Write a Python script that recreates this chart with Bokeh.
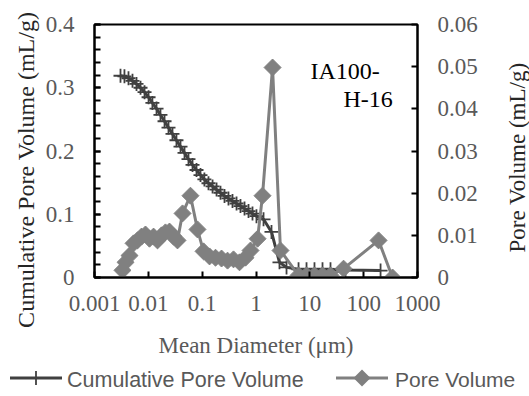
import math
from bokeh.plotting import figure
from bokeh.layouts import column, row
from bokeh.core.properties import value
from bokeh.models import (Range1d, LinearAxis, FixedTicker, CustomJSTickFormatter,
                          Label, Div)
from bokeh.embed import file_html
from bokeh.resources import INLINE

# ---- data ----
cum_x = [0.00304, 0.00360, 0.00428, 0.00508, 0.00603, 0.00716, 0.00850, 0.0101,
         0.0119, 0.0142, 0.0168, 0.0200, 0.0237, 0.0281, 0.0333, 0.0396, 0.0470,
         0.0557, 0.0662, 0.0785, 0.0931, 0.110, 0.131, 0.156, 0.185, 0.219, 0.260,
         0.308, 0.366, 0.435, 0.515, 0.612, 0.726, 0.861, 1.02, 1.38, 1.94, 2.73,
         3.69, 6.17, 8.68, 12.2, 17.2, 24.2, 46.0, 206.0]
cum_y = [0.319, 0.318, 0.315, 0.311, 0.306, 0.300, 0.293, 0.285, 0.276, 0.267,
         0.257, 0.247, 0.237, 0.227, 0.217, 0.207, 0.197, 0.187, 0.178, 0.170,
         0.162, 0.155, 0.149, 0.144, 0.139, 0.134, 0.129, 0.125, 0.121, 0.117,
         0.113, 0.109, 0.105, 0.101, 0.097, 0.092, 0.072, 0.024, 0.016, 0.013,
         0.013, 0.013, 0.013, 0.013, 0.012, 0.011]

pv_x = [0.00331, 0.00377, 0.00447, 0.00531, 0.00630, 0.00747, 0.00885, 0.0105,
        0.0125, 0.0148, 0.0176, 0.0208, 0.0247, 0.0294, 0.0348, 0.0432, 0.0606,
        0.0818, 0.106, 0.137, 0.177, 0.229, 0.296, 0.382, 0.494, 0.638, 0.791,
        1.07, 1.32, 2.03, 2.85, 6.17, 8.68, 12.2, 17.2, 24.2, 42.3, 189.0, 344.0]
pv_y = [0.0017, 0.0036, 0.0052, 0.0081, 0.0088, 0.0097, 0.0102, 0.0092, 0.0097,
        0.0088, 0.0100, 0.0107, 0.0109, 0.0097, 0.0088, 0.0152, 0.0194, 0.0114,
        0.0062, 0.0050, 0.0047, 0.0045, 0.0040, 0.0043, 0.0036, 0.0047, 0.0064,
        0.0092, 0.0194, 0.0498, 0.0064, 0.0005, 0.0005, 0.0005, 0.0005, 0.0005,
        0.0021, 0.0088, 0.0000]

x_ticks = [0.001, 0.01, 0.1, 1, 10, 100, 1000]
left_ticks = [0.0, 0.1, 0.2, 0.3, 0.4]
left_minor = [0.02 * i for i in range(21)]
right_ticks = [0.0, 0.01, 0.02, 0.03, 0.04, 0.05, 0.06]
series_names = ["Cumulative Pore Volume", "Pore Volume"]
left_title = "Cumulative Pore Volume (mL/g)"
right_title = "Pore Volume (mL/g)"

SERIF = "Liberation Serif"
GRAY = "#595959"
CUM_COLOR = "#404040"
PV_COLOR = "#808080"


def make_label(**kw):
    font = kw.pop("font")
    lab = Label(**kw)
    try:
        lab.text_font = value(font)
    except Exception:
        lab.text_font = font
    return lab


p = figure(width=465, height=368, x_axis_type="log", output_backend="svg",
           toolbar_location=None, x_range=Range1d(0.001, 1000),
           y_range=Range1d(0, 0.4),
           min_border_left=54, min_border_right=88, min_border_top=24,
           min_border_bottom=91)
p.extra_y_ranges = {"pv": Range1d(0, 0.06)}
p.grid.visible = False
p.outline_line_color = "black"
p.outline_line_width = 2
p.background_fill_color = "white"
p.border_fill_color = "white"

fmt = CustomJSTickFormatter(code="return String(Math.round(tick*1000000)/1000000)")

xa = p.xaxis[0]
xa.ticker = FixedTicker(ticks=x_ticks)
xa.formatter = fmt
xa.axis_label = "Mean Diameter (\u03bcm)"

ya = p.yaxis[0]
ya.ticker = FixedTicker(ticks=left_ticks, minor_ticks=left_minor)
ya.formatter = fmt

ra = LinearAxis(y_range_name="pv", ticker=FixedTicker(ticks=right_ticks), formatter=fmt)
p.add_layout(ra, "right")

for ax in (xa, ya, ra):
    ax.axis_line_color = "black"
    ax.axis_line_width = 2
    ax.major_tick_line_color = "black"
    ax.major_tick_line_width = 2
    ax.minor_tick_line_color = "black"
    ax.minor_tick_line_width = 2
    ax.major_tick_in = 6
    ax.major_tick_out = 0
    ax.minor_tick_in = 0
    ax.minor_tick_out = 0
    ax.major_label_text_font = SERIF
    ax.major_label_text_font_size = "23px"
    ax.major_label_text_color = GRAY
    ax.axis_label_text_font = SERIF
    ax.axis_label_text_font_size = "23px"
    ax.axis_label_text_color = GRAY
    ax.axis_label_text_font_style = "normal"
ya.minor_tick_in = 6
xa.major_label_standoff = 18
xa.axis_label_standoff = 19
ya.major_label_standoff = 20
ra.major_label_standoff = 20

# series
p.line(cum_x, cum_y, line_color=CUM_COLOR, line_width=3)
p.scatter(cum_x, cum_y, marker="cross", size=14, line_color=CUM_COLOR, line_width=1.8)
p.line(pv_x, pv_y, line_color=PV_COLOR, line_width=3, y_range_name="pv")
p.scatter(pv_x, pv_y, marker="square", angle=math.pi / 4, size=12,
          fill_color=PV_COLOR, line_color=PV_COLOR, y_range_name="pv")

p.add_layout(make_label(x=216, y=207, x_units="screen", y_units="screen",
                        text="IA100-", text_baseline="alphabetic", font=SERIF,
                        text_font_size="24px", text_color="black"))
p.add_layout(make_label(x=249, y=179, x_units="screen", y_units="screen",
                        text="H-16", text_baseline="alphabetic", font=SERIF,
                        text_font_size="24px", text_color="black"))

# left-hand axis title (reads bottom to top)
lt_html = f"""
<div style="width:40px;height:368px;background:white;">
<svg width="40" height="368" xmlns="http://www.w3.org/2000/svg">
  <text transform="translate(34,170) rotate(-90)" text-anchor="middle"
        style="font-family:'Liberation Serif','Times New Roman',serif;font-size:24px;fill:#262626">{left_title}</text>
</svg></div>
"""
lt = Div(text=lt_html, width=40, height=368, margin=(0, 0, 0, 0))

# right-hand axis title (reads bottom to top)
rt = figure(width=24, height=368, output_backend="svg", toolbar_location=None,
            x_axis_location=None, y_axis_location=None,
            min_border_left=0, min_border_right=0, min_border_top=24,
            min_border_bottom=91, x_range=Range1d(0, 1), y_range=Range1d(0, 1))
rt.grid.visible = False
rt.outline_line_color = None
rt.border_fill_color = "white"
rt.add_layout(make_label(x=12, y=120, x_units="screen", y_units="screen",
                         text=right_title, angle=math.pi / 2,
                         text_align="center", text_baseline="middle", font=SERIF,
                         text_font_size="23px", text_color="#262626"))

# legend strip
SANS_STYLE = "font-family:'Liberation Sans',Arial,sans-serif;fill:" + GRAY
legend_html = f"""
<div style="width:529px;height:28px;position:relative;background:white;">
<svg width="529" height="28" xmlns="http://www.w3.org/2000/svg">
  <line x1="10" y1="10" x2="62" y2="10" stroke="{CUM_COLOR}" stroke-width="3"/>
  <line x1="36" y1="3" x2="36" y2="17" stroke="{CUM_COLOR}" stroke-width="1.8"/>
  <text x="67" y="19" style="{SANS_STYLE};font-size:21.5px">{series_names[0]}</text>
  <line x1="336" y1="10" x2="388" y2="10" stroke="{PV_COLOR}" stroke-width="3"/>
  <polygon points="362,1.5 370.5,10 362,18.5 353.5,10" fill="{PV_COLOR}"/>
  <text x="395" y="19" style="{SANS_STYLE};font-size:21px">{series_names[1]}</text>
</svg></div>
"""
lg = Div(text=legend_html, width=529, height=28, margin=(0, 0, 0, 0))

layout = column(row(lt, p, rt, spacing=0), lg, spacing=0)
open("out.html", "w").write(file_html(layout, INLINE))
